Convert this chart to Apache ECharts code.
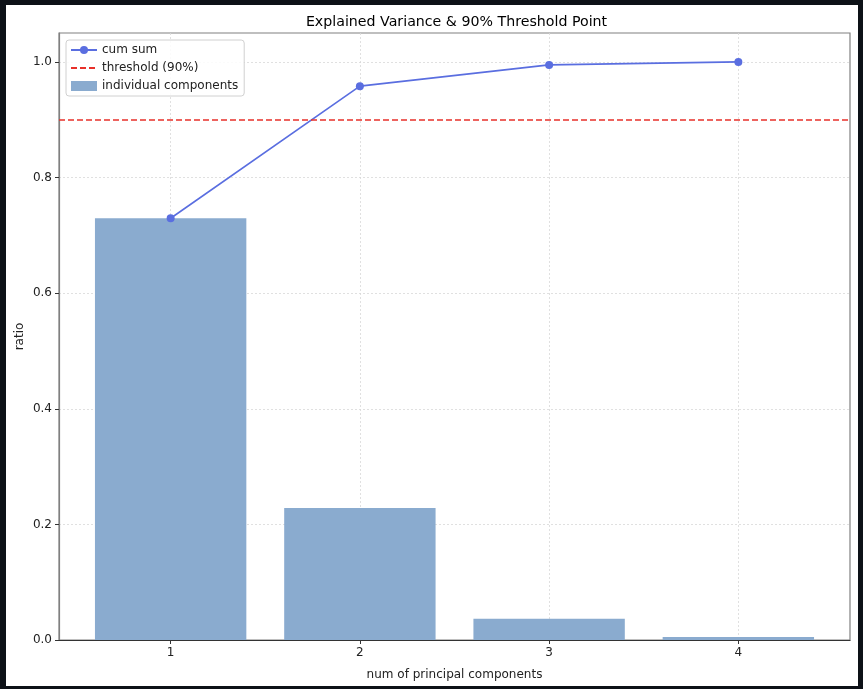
<!DOCTYPE html>
<html>
<head>
<meta charset="utf-8">
<script src="https://cdn.jsdelivr.net/npm/echarts@6/dist/echarts.min.js"></script>
<style>
html,body{margin:0;padding:0;background:#0d1117;width:863px;height:689px;overflow:hidden;}
#frame{position:absolute;left:6px;top:5px;width:852px;height:681px;background:#fff;}
#chart{width:852px;height:681px;}
</style>
</head>
<body>
<div id="frame"><div id="chart"></div></div>
<script>
const components = [1, 2, 3, 4];
const individual = [0.7296, 0.2285, 0.0367, 0.0052];
const cumSum = [0.7296, 0.9581, 0.9948, 1.0];
const threshold = 0.9;
const xTicks = [1, 2, 3, 4];
const yTicks = [0, 0.2, 0.4, 0.6, 0.8, 1.0];

const W = 852, H = 681;
const gridL = 53, gridR = 8, gridT = 28, gridB = 46;
const xMin = 0.41, xMax = 4.59;
const plotW = W - gridL - gridR;
const barW = 0.8 * plotW / (xMax - xMin);

const chart = echarts.init(document.getElementById('chart'), null, {renderer: 'canvas'});
const font = 'DejaVu Sans';
chart.setOption({
  animation: false,
  textStyle: {fontFamily: font},
  title: {
    text: 'Explained Variance & 90% Threshold Point',
    left: gridL + plotW / 2 - 3, textAlign: 'center', top: 5,
    textStyle: {fontFamily: font, fontSize: 14.2, fontWeight: 'normal', color: '#000'}
  },
  legend: {
    orient: 'vertical', left: 60, top: 35,
    padding: [4, 6, 4, 4],
    itemGap: 6, itemWidth: 26, itemHeight: 10,
    borderColor: '#d0d0d0', borderWidth: 1, borderRadius: 3,
    backgroundColor: 'rgba(255,255,255,0.85)',
    textStyle: {fontFamily: font, fontSize: 12, color: '#222'},
    data: [
      {name: 'cum sum'},
      {name: 'threshold (90%)', itemStyle: {opacity: 0}},
      {name: 'individual components', icon: 'rect'}
    ]
  },
  grid: {left: gridL, right: gridR, top: gridT, bottom: gridB, show: true,
    borderColor: '#808080', borderWidth: 1.2, outerBoundsMode: 'none', containLabel: false},
  xAxis: {
    type: 'value', min: xMin, max: xMax,
    name: 'num of principal components', nameLocation: 'middle', nameGap: 29,
    nameMoveOverlap: false,
    nameTextStyle: {fontFamily: font, fontSize: 12, color: '#222'},
    axisLine: {show: true, onZero: false, lineStyle: {color: '#333', width: 1.2}},
    axisTick: {show: true, length: 4, lineStyle: {color: '#333'}, customValues: xTicks},
    axisLabel: {fontFamily: font, fontSize: 12, color: '#222', margin: 7, customValues: xTicks},
    splitLine: {show: true, lineStyle: {color: '#d8d8d8', type: [2, 2], width: 0.8}}
  },
  yAxis: {
    type: 'value', min: 0, max: 1.05, interval: 0.2,
    name: 'ratio', nameLocation: 'middle', nameGap: 33,
    nameMoveOverlap: false,
    nameTextStyle: {fontFamily: font, fontSize: 12, color: '#222'},
    axisLine: {show: true, lineStyle: {color: '#808080', width: 1.2}},
    axisTick: {show: true, length: 4, lineStyle: {color: '#333'}, customValues: yTicks},
    axisLabel: {fontFamily: font, fontSize: 12, color: '#222', margin: 7, customValues: yTicks,
      formatter: v => v.toFixed(1)},
    splitLine: {show: true, lineStyle: {color: '#d8d8d8', type: [2, 2], width: 0.8}}
  },
  series: [
    {
      name: 'individual components', type: 'bar',
      data: components.map((c, i) => [c, individual[i]]),
      barWidth: barW,
      itemStyle: {color: '#8aabcf'},
      z: 1
    },
    {
      name: 'cum sum', type: 'line',
      data: components.map((c, i) => [c, cumSum[i]]),
      symbol: 'circle', symbolSize: 8,
      itemStyle: {color: '#5a6ee0'},
      lineStyle: {color: '#5a6ee0', width: 1.6},
      z: 3
    },
    {
      name: 'threshold (90%)', type: 'line',
      data: [], symbol: 'none',
      itemStyle: {color: '#e8302a'},
      lineStyle: {color: '#e8302a', type: [6, 3], width: 1.6},
      markLine: {
        silent: true, symbol: 'none', label: {show: false},
        lineStyle: {color: '#e8302a', type: [6, 3], width: 1.6},
        data: [{yAxis: threshold}]
      },
      z: 2
    }
  ]
});
</script>
</body>
</html>
